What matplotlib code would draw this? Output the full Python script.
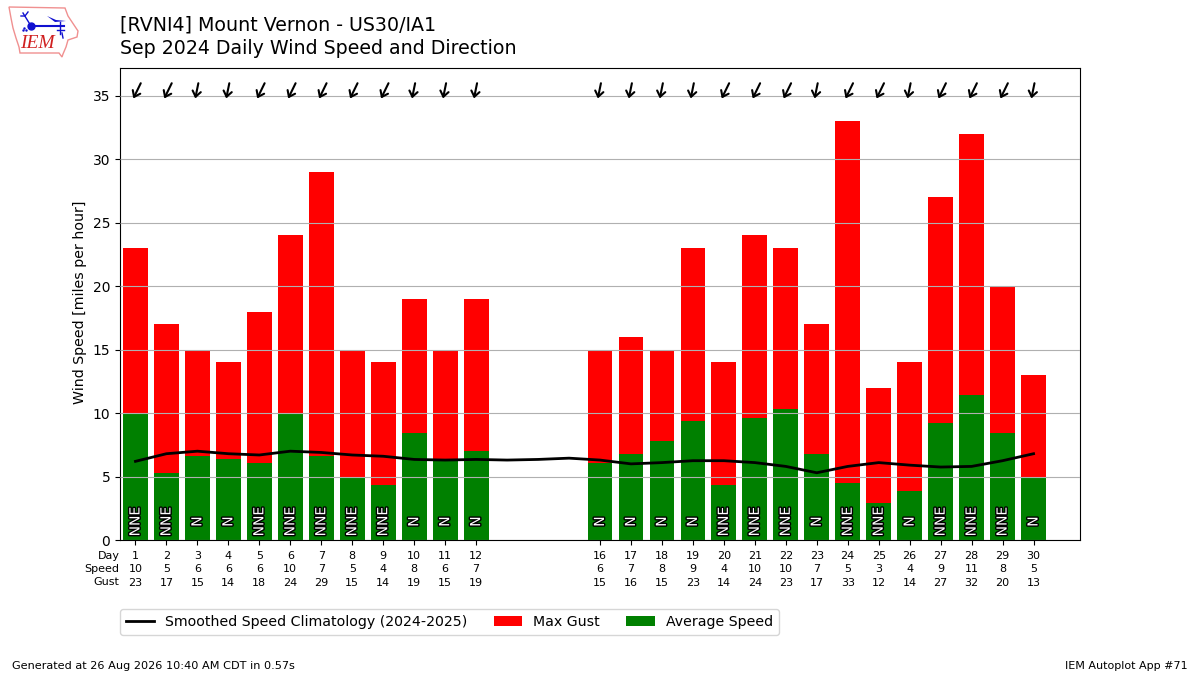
import matplotlib
matplotlib.use("Agg")
import matplotlib.pyplot as plt
import matplotlib.patheffects as pe
from matplotlib.patches import Polygon

days = [1,2,3,4,5,6,7,8,9,10,11,12,16,17,18,19,20,21,22,23,24,25,26,27,28,29,30]
avg_speed = [9.9,5.3,6.6,6.4,6.1,9.9,6.6,5.0,4.3,8.4,6.3,7.0,6.1,6.8,7.8,9.4,4.3,9.6,10.3,6.8,4.5,2.9,3.9,9.2,11.4,8.4,4.9]
speed_labels = [10,5,6,6,6,10,7,5,4,8,6,7,6,7,8,9,4,10,10,7,5,3,4,9,11,8,5]
max_gust = [23,17,15,14,18,24,29,15,14,19,15,19,15,16,15,23,14,24,23,17,33,12,14,27,32,20,13]
directions = ["NNE","NNE","N","N","NNE","NNE","NNE","NNE","NNE","N","N","N","N","N","N","N","NNE","NNE","NNE","N","NNE","NNE","N","NNE","NNE","NNE","N"]
clim_days = list(range(1,31))
climatology = [6.2,6.8,7.0,6.8,6.7,7.0,6.9,6.7,6.6,6.35,6.3,6.35,6.3,6.35,6.45,6.3,6.0,6.1,6.25,6.25,6.1,5.8,5.3,5.8,6.1,5.9,5.75,5.8,6.25,6.8]

fig = plt.figure(figsize=(12,6.75), dpi=100)
ax = fig.add_axes([120/1200, 1-540/675, 960/1200, 472/675])
ax.bar(days, max_gust, width=0.8, color="red", label="Max Gust", zorder=2)
ax.bar(days, avg_speed, width=0.8, color="green", label="Average Speed", zorder=2)
ax.plot(clim_days, climatology, color="k", lw=2, zorder=4, label="Smoothed Speed Climatology (2024-2025)")
ax.set_xlim(0.5,31.5)
ax.set_ylim(0,37.2)
ax.yaxis.grid(True, color="#b0b0b0", lw=0.8, zorder=3)
ax.set_axisbelow(False)
ax.set_ylabel("Wind Speed [miles per hour]", fontsize=10.15, labelpad=4, y=0.503)
ax.set_xticks(days)
ax.set_xticklabels([f"{d}\n{s}\n{g}" for d,s,g in zip(days,speed_labels,max_gust)], fontsize=8, linespacing=1.4)
ax.tick_params(axis="x", pad=4.6)
ax.text(-0.0005,-0.0225,"Day\nSpeed\nGust",transform=ax.transAxes,ha="right",va="top",fontsize=8,linespacing=1.4)

for d,name in zip(days,directions):
    ax.text(d,1.45,name,rotation=90,ha="center",va="center",fontsize=10,color="white",zorder=5,
            path_effects=[pe.withStroke(linewidth=2,foreground="k")])
    # arrows: wind blowing from the labelled direction
    dx = {"N":0.1,"NNE":0.24}[name]
    ax.annotate("",xy=(d-0.07,34.8),xytext=(d-0.07+dx,36.0),zorder=6,
                arrowprops=dict(arrowstyle="->,head_length=0.4,head_width=0.3",color="k",lw=1.5,
                                shrinkA=0,shrinkB=0,mutation_scale=10))

handles,labels = ax.get_legend_handles_labels()
order = [labels.index("Smoothed Speed Climatology (2024-2025)"),labels.index("Max Gust"),labels.index("Average Speed")]
fig.legend([handles[i] for i in order],[labels[i] for i in order],ncol=3,fontsize=10.2,columnspacing=1.85,
           loc="lower left",bbox_to_anchor=(120/1200,1-634.8/675),borderaxespad=0)

fig.text(120/1200,1-30.5/675,"[RVNI4] Mount Vernon - US30/IA1",fontsize=13.65,va="baseline")
fig.text(120/1200,1-54/675,"Sep 2024 Daily Wind Speed and Direction",fontsize=13.65,va="baseline")
fig.text(12/1200,1-669/675,"Generated at 26 Aug 2026 10:40 AM CDT in 0.57s",fontsize=8.14,va="baseline")
fig.text(1188/1200,1-669/675,"IEM Autoplot App #71",fontsize=8,ha="right",va="baseline")

# logo
logo = fig.add_axes([0,1-60/675,90/1200,60/675])
logo.set_xlim(0,90); logo.set_ylim(60,0); logo.axis("off")
outline = [(9,7),(65,8),(68,16),(72,22),(78,31),(77,37),(68,40),(66,47),(63,54),(62,57),(59,53),(20,53),(19,47),(16,38),(13,28),(11,18)]
logo.add_patch(Polygon(outline,closed=True,fill=False,ec="#f09090",lw=1))
blue = "#1010d0"
logo.plot([31,64],[26,26],color=blue,lw=1.5)
logo.plot([31],[26],"o",color=blue,ms=5)
logo.plot([23,31],[13,26],color=blue,lw=1)
logo.plot([21,25,28],[16,16,12],color=blue,lw=1)
logo.fill([47,56,66,55],[16,20,21,22],color=blue,lw=0)
logo.plot([60,60],[22,34],color=blue,lw=1)
logo.plot([57,64],[30,30],color=blue,lw=1)
logo.plot([62,63],[33,38],color=blue,lw=1)
logo.plot([24,26,23],[28,30,30],".",color=blue,ms=1.5)
logo.text(37,44,"IEM",fontsize=14,color="#d02020",family="Liberation Serif",style="italic",ha="center",va="center")

fig.savefig("out.png",dpi=100)
